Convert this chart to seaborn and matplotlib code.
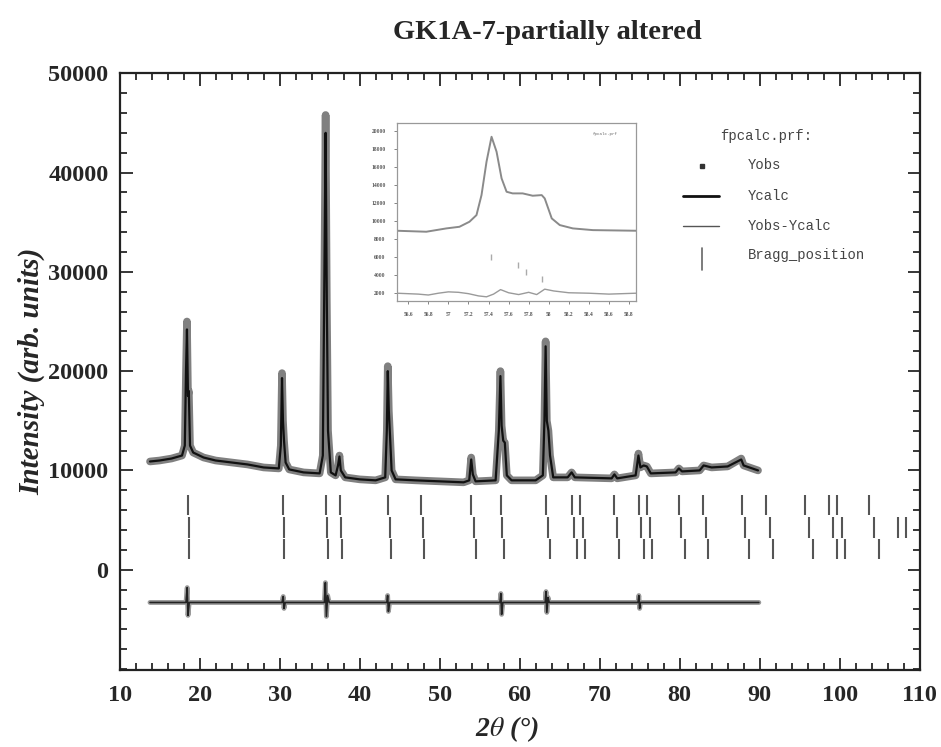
"""
Rietveld-style powder pattern: GK1A-7-partially altered
"""

import pandas as pd
import matplotlib
matplotlib.use('Agg')
import matplotlib.pyplot as plt
from matplotlib.lines import Line2D
from matplotlib.ticker import MultipleLocator
import seaborn as sns

# ---- main pattern (vertices) ----
two_theta = [13.8, 15.0, 16.5, 17.8, 18.15, 18.3, 18.42, 18.55, 18.65, 18.8, 19.2,
             20.5, 22.0, 24.0, 26.0, 28.0, 29.9, 30.15, 30.3, 30.42, 30.55, 30.75,
             31.2, 33.0, 35.0, 35.4, 35.6, 35.75, 35.9, 36.05, 36.4, 37.0, 37.3,
             37.48, 37.65, 38.2, 40.0, 42.0, 43.2, 43.4, 43.52, 43.65, 43.8, 44.0,
             44.5, 47.0, 50.0, 53.0, 53.7, 53.95, 54.15, 54.5, 57.0, 57.4, 57.6,
             57.75, 57.95, 58.15, 58.4, 59.0, 62.0, 62.9, 63.1, 63.25, 63.4, 63.6,
             63.8, 64.2, 66.0, 66.5, 66.9, 71.5, 71.85, 72.2, 74.5, 74.85, 75.1,
             75.5, 75.9, 76.4, 79.5, 79.9, 80.3, 82.5, 83.0, 84.0, 86.0, 87.7,
             88.0, 89.8]
y_obs = [10900, 11000, 11200, 11500, 12500, 20000, 25000, 17500, 18000, 12500, 11800,
         11300, 11000, 10800, 10600, 10300, 10200, 12500, 19800, 15000, 13000, 10800,
         10100, 9800, 9700, 11500, 30000, 45800, 27000, 14000, 9800, 9500, 10500,
         11500, 10000, 9300, 9100, 9000, 9300, 14000, 20500, 16000, 13500, 10000,
         9100, 9000, 8900, 8800, 9000, 11300, 9600, 8900, 9000, 14000, 20000,
         14500, 13000, 12800, 9500, 9000, 9000, 9500, 15000, 23000, 15000, 14000,
         11500, 9300, 9300, 9800, 9300, 9200, 9600, 9200, 9500, 11700, 10300,
         10500, 10400, 9700, 9800, 10200, 9900, 10000, 10500, 10300, 10400, 11200,
         10500, 10000]
y_calc = [10900, 11000, 11200, 11500, 12500, 20000, 24200, 17500, 18000, 12500, 11800,
          11300, 11000, 10800, 10600, 10300, 10200, 12500, 19300, 15000, 13000, 10800,
          10100, 9800, 9700, 11500, 30000, 44000, 27000, 14000, 9800, 9500, 10500,
          11400, 10000, 9300, 9100, 9000, 9300, 14000, 20000, 16000, 13500, 10000,
          9100, 9000, 8900, 8800, 9000, 11100, 9600, 8900, 9000, 14000, 19500,
          14500, 13000, 12800, 9500, 9000, 9000, 9500, 15000, 22500, 15000, 14000,
          11500, 9300, 9300, 9800, 9300, 9200, 9600, 9200, 9500, 11500, 10300,
          10500, 10400, 9700, 9800, 10200, 9900, 10000, 10500, 10300, 10400, 11100,
          10500, 10000]

diff_x = [13.8, 18.3, 18.45, 18.55, 18.7, 30.3, 30.45, 30.55, 30.7, 35.6, 35.72,
          35.85, 36.0, 36.2, 43.4, 43.5, 43.6, 43.75, 57.55, 57.65, 57.75, 57.9,
          63.2, 63.3, 63.4, 63.55, 63.7, 74.8, 74.9, 75.0, 75.1, 89.9]
diff_y = [-3300, -3300, -1800, -4600, -3300, -3300, -2700, -3900, -3300, -3300, -1300,
          -4700, -2600, -3300, -3300, -2600, -4200, -3300, -3300, -2400, -4500, -3300,
          -3300, -2200, -4300, -2800, -3300, -3300, -2600, -3900, -3300, -3300]

# Bragg positions, three phases
bragg_1 = [18.54, 30.46, 35.77, 37.53, 43.51, 47.69, 53.96, 57.64, 63.25, 66.51,
           67.56, 71.82, 74.88, 75.92, 79.90, 82.95, 87.76, 90.77, 95.70, 98.63,
           99.68, 103.65]
bragg_2 = [18.62, 30.59, 35.90, 37.62, 43.84, 47.94, 54.26, 57.81, 63.58, 66.85,
           67.89, 72.16, 75.21, 76.26, 80.23, 83.24, 88.18, 91.27, 96.21, 99.22,
           100.26, 104.28, 107.29, 108.33]
bragg_3 = [18.62, 30.59, 36.06, 37.78, 43.93, 48.11, 54.51, 58.02, 63.79, 67.14,
           68.19, 72.45, 75.50, 76.55, 80.65, 83.57, 88.68, 91.69, 96.62, 99.64,
           100.68, 104.90]

# ---- inset (zoom on 56.5-58.9 deg) ----
inset_x = [56.485, 56.78, 56.98, 57.11, 57.21, 57.28, 57.33, 57.38, 57.43, 57.48,
           57.53, 57.58, 57.64, 57.74, 57.84, 57.93, 57.96, 58.03, 58.11, 58.24,
           58.44, 58.87]
inset_y = [8890, 8780, 9150, 9330, 9890, 10630, 12850, 16560, 19330, 17670,
           14710, 13220, 13040, 13040, 12780, 12850, 12480, 10260, 9520, 9150,
           8960, 8890]
inset_diff_x = [56.485, 56.7, 56.8, 56.9, 57.0, 57.1, 57.2, 57.3, 57.38, 57.45,
                57.52, 57.6, 57.7, 57.8, 57.88, 57.96, 58.05, 58.2, 58.4, 58.6, 58.87]
inset_diff_y = [1950, 1850, 1750, 1950, 2100, 2050, 1900, 1650, 1550, 1850,
                2350, 2000, 1800, 2050, 1800, 2400, 2200, 2000, 1950, 1850, 1950]
inset_bragg_x = [57.42, 57.69, 57.77, 57.93]
inset_bragg_lo = [5630, 4780, 3960, 3220]
inset_bragg_hi = [6270, 5440, 4630, 3850]

y_labels = [0, 10000, 20000, 30000, 40000, 50000]

sns.set_style("ticks")
plt.rcParams['font.family'] = ['Liberation Serif', 'DejaVu Serif']
plt.rcParams['mathtext.fontset'] = 'stix'

fig = plt.figure(figsize=(9.41, 7.47), dpi=100)
ax = fig.add_axes([0.1271, 0.1031, 0.8502, 0.7988])

main_df = pd.DataFrame({'2theta': two_theta, 'obs': y_obs, 'calc': y_calc})
diff_df = pd.DataFrame({'2theta': diff_x, 'diff': diff_y})

sns.lineplot(data=main_df, x='2theta', y='obs', ax=ax, color='#808080', lw=5.5,
             sort=False, estimator=None, solid_capstyle='round')
sns.lineplot(data=main_df, x='2theta', y='calc', ax=ax, color='#111111', lw=1.6,
             sort=False, estimator=None)
sns.lineplot(data=diff_df, x='2theta', y='diff', ax=ax, color='#9a9a9a', lw=3.5,
             sort=False, estimator=None)
sns.lineplot(data=diff_df, x='2theta', y='diff', ax=ax, color='#222222', lw=1.2,
             sort=False, estimator=None)

tick_col = '#555555'
ax.vlines(bragg_1, 5500, 7500, color=tick_col, lw=1.5)
ax.vlines(bragg_2, 3200, 5300, color=tick_col, lw=1.5)
ax.vlines(bragg_3, 1100, 3100, color=tick_col, lw=1.5)

ax.set_xlim(10, 110)
ax.set_ylim(-10100, 50000)
ax.xaxis.set_major_locator(MultipleLocator(10))
ax.xaxis.set_minor_locator(MultipleLocator(2))
ax.set_yticks(y_labels)
ax.yaxis.set_minor_locator(MultipleLocator(2000))
ax.tick_params(which='both', direction='in', top=True, right=True, width=1.3,
               labelsize=17.5)
ax.tick_params(axis='x', pad=11)
ax.tick_params(axis='y', pad=8)
ax.tick_params(which='major', length=9)
ax.tick_params(which='minor', length=5)
for lab in ax.get_xticklabels() + ax.get_yticklabels():
    lab.set_fontweight('bold')
for sp in ax.spines.values():
    sp.set_linewidth(1.6)
    sp.set_color('#222222')

ax.set_xlabel(r'2$\theta$ (°)', fontsize=20, fontweight='bold', style='italic', labelpad=2)
ax.set_ylabel('Intensity (arb. units)', fontsize=21, fontweight='bold', style='italic',
              labelpad=2)
ax.xaxis.set_label_coords(0.484, -0.075)
fig.text(0.582, 0.957, 'GK1A-7-partially altered', ha='center', va='center',
         fontsize=20.5, fontweight='bold')

# legend, drawn by hand like the refinement program does
mono = ['Liberation Mono', 'DejaVu Sans Mono']
lg_col = '#444444'
fig.text(0.765, 0.818, 'fpcalc.prf:', family=mono, fontsize=10, color=lg_col, va='center')
fig.text(0.795, 0.779, 'Yobs', family=mono, fontsize=10, color=lg_col, va='center')
fig.text(0.795, 0.737, 'Ycalc', family=mono, fontsize=10, color=lg_col, va='center')
fig.text(0.795, 0.697, 'Yobs-Ycalc', family=mono, fontsize=10, color=lg_col, va='center')
fig.text(0.795, 0.658, 'Bragg_position', family=mono, fontsize=10, color=lg_col, va='center')
fig.add_artist(Line2D([0.7455], [0.778], marker='s', ms=2.5, color='#333333',
                      transform=fig.transFigure))
fig.add_artist(Line2D([0.726, 0.764], [0.737, 0.737], lw=2.0, color='#111111',
                      transform=fig.transFigure))
fig.add_artist(Line2D([0.726, 0.764], [0.697, 0.697], lw=1.0, color='#555555',
                      transform=fig.transFigure))
fig.add_artist(Line2D([0.7455, 0.7455], [0.639, 0.668], lw=1.2, color='#666666',
                      transform=fig.transFigure))

# inset
axin = fig.add_axes([0.4216, 0.597, 0.2543, 0.2387])
ins_df = pd.DataFrame({'2theta': inset_x, 'I': inset_y})
ins_diff = pd.DataFrame({'2theta': inset_diff_x, 'd': inset_diff_y})
sns.lineplot(data=ins_df, x='2theta', y='I', ax=axin, color='#8a8a8a', lw=1.4,
             sort=False, estimator=None)
sns.lineplot(data=ins_diff, x='2theta', y='d', ax=axin, color='#9a9a9a', lw=1.0,
             sort=False, estimator=None)
axin.vlines(inset_bragg_x, inset_bragg_lo, inset_bragg_hi, color='#aaaaaa', lw=1.0)
axin.set_xlim(56.485, 58.87)
axin.set_ylim(1080, 20890)
axin.set_xticks([56.6, 56.8, 57.0, 57.2, 57.4, 57.6, 57.8, 58.0, 58.2, 58.4, 58.6, 58.8])
axin.set_xticklabels(['56.6', '56.8', '57', '57.2', '57.4', '57.6', '57.8', '58',
                      '58.2', '58.4', '58.6', '58.8'])
axin.set_yticks(range(2000, 20001, 2000))
axin.tick_params(labelsize=4, colors='#555555', length=2, width=0.5, pad=6)
for lab in axin.get_xticklabels() + axin.get_yticklabels():
    lab.set_fontweight('bold')
axin.set_xlabel('')
axin.set_ylabel('')
for sp in axin.spines.values():
    sp.set_linewidth(0.9)
    sp.set_color('#999999')
axin.text(0.82, 0.93, 'fpcalc.prf', transform=axin.transAxes, fontsize=3,
          color='#666666', family=mono)

fig.savefig('out.png', dpi=100)
